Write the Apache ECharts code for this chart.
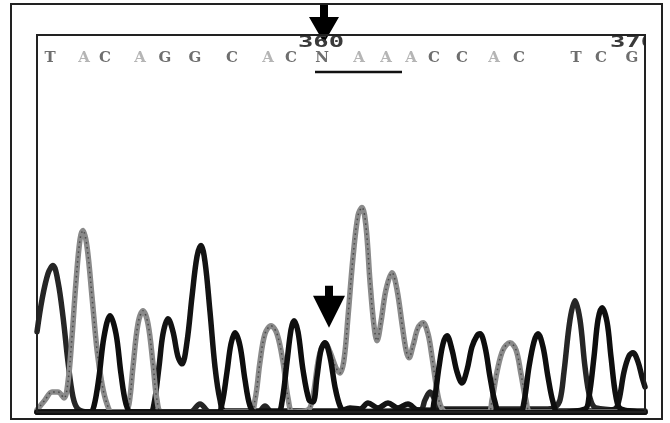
<!DOCTYPE html>
<html>
<head>
<meta charset="utf-8">
<script src="https://cdn.jsdelivr.net/npm/echarts@6/dist/echarts.min.js"></script>
<style>html,body{margin:0;padding:0;background:#fff;}#c{width:670px;height:423px;}</style>
</head>
<body>
<div id="c"></div>
<script>
// Base calls and their positions along the scan axis
const bases   = ['T','A','C','A','G','G','C','A','C','N','A','A','A','C','C','A','C','T','C','G'];
const basePos = [50, 84, 105, 140, 165, 195, 232, 268, 291, 322, 359, 386, 411, 434, 462, 494, 519, 576, 601, 632];
const baseRowY = 353;

// Position tick labels
const tickLabels = ['360', '370'];
const tickPos = [321, 633];
const tickRowY = 368;

// Trace intensities [scan position, signal]
const traceA = [[37,2],[45,12],[52,20],[58,20],[64,14],[68,30],[72,75],[76,130],[80,172],[83,181],[87,165],[92,115],[97,62],[102,28],[107,8],[112,0],[125,0],[129,8],[133,45],[138,88],[143,101],[148,88],[153,48],[157,12],[162,0],[250,0],[255,12],[260,50],[265,78],[271,86],[277,78],[283,50],[288,14],[293,0],[308,2],[313,16],[319,55],[325,69],[330,60],[336,44],[340,39],[344,52],[348,95],[353,154],[358,196],[362,204],[366,185],[370,130],[374,86],[377,71],[381,90],[386,122],[392,139],[397,122],[402,88],[406,62],[409,54],[413,66],[418,84],[423,89],[428,78],[432,55],[436,28],[440,8],[446,0],[488,0],[492,12],[497,40],[503,62],[510,69],[516,62],[521,38],[526,12],[531,0],[645,0]];
const traceC = [[37,0],[90,0],[94,6],[99,35],[104,75],[110,96],[116,78],[121,38],[126,8],[131,0],[218,0],[222,8],[227,40],[231,68],[235,79],[240,66],[245,32],[250,6],[255,0],[278,0],[282,10],[287,50],[291,82],[294,91],[298,80],[303,42],[309,12],[313,10],[317,35],[321,62],[325,69],[330,55],[335,25],[340,6],[345,0],[430,0],[434,10],[439,45],[443,68],[447,76],[452,62],[457,40],[462,29],[467,42],[472,65],[477,76],[480,78],[485,65],[490,35],[495,10],[500,0],[520,0],[524,10],[529,45],[534,70],[538,78],[543,65],[548,35],[553,10],[558,0],[585,3],[589,15],[594,55],[598,92],[602,104],[607,90],[611,55],[616,15],[621,3],[645,0]];
const traceG = [[37,0],[150,0],[154,8],[159,45],[163,78],[168,93],[173,80],[178,55],[182,48],[187,70],[192,115],[197,155],[201,166],[205,150],[210,100],[215,45],[220,12],[225,1],[340,1],[350,4],[360,3],[368,9],[378,4],[388,9],[398,4],[408,8],[418,2],[600,1],[615,3],[619,12],[624,40],[629,56],[633,59],[638,50],[642,35],[645,25]];
const traceT = [[37,80],[42,112],[48,138],[53,146],[58,130],[63,95],[68,50],[73,15],[78,3],[90,0],[190,0],[200,8],[210,0],[258,0],[265,6],[272,0],[420,2],[425,12],[430,20],[435,12],[440,3],[545,3],[555,5],[560,12],[564,40],[570,92],[575,111],[580,92],[585,45],[590,14],[596,4],[645,1]];

// Annotations
const underlineX = [315, 402];
const underlineY = 339;
const arrowX = [324, 329];
const arrowTipY = [368, 84];

const chart = echarts.init(document.getElementById('c'), null, {renderer: 'canvas'});

const arrowTop = 'path://M11,0 L19,0 L19,12 L30,12 L15,38 L0,12 L11,12 Z';
const arrowLow = 'path://M12,0 L20,0 L20,10 L32,10 L16,42 L0,10 L12,10 Z';

function trace(name, data, color, width, z) {
  return {
    name, type: 'line', data, smooth: 0.35, symbol: 'none', z: z || 2,
    lineStyle: {color, width, cap: 'round', join: 'round'}
  };
}

chart.setOption({
  animation: false,
  backgroundColor: '#fff',
  grid: {left: 37, right: 25, top: 35, bottom: 11, show: true, borderColor: '#222', borderWidth: 2, backgroundColor: 'transparent'},
  xAxis: {type: 'value', min: 37, max: 645, z: 10, axisLine: {show: true, onZero: false, lineStyle: {color: '#111', width: 5}}, axisTick: {show: false}, axisLabel: {show: false}, splitLine: {show: false}},
  yAxis: {type: 'value', min: 0, max: 376, axisLine: {show: false}, axisTick: {show: false}, axisLabel: {show: false}, splitLine: {show: false}},
  series: [
    trace('T', traceT, '#262626', 5.5, 2),
    trace('G', traceG, '#131313', 5.5, 3),
    trace('A', traceA, '#8a8a8a', 5.5, 4),
    {name: 'A-dots', type: 'line', data: traceA, smooth: 0.35, symbol: 'none', z: 5,
     lineStyle: {color: '#4a4a4a', width: 1.5, type: [1.5, 3.5]}},
    trace('C', traceC, '#0e0e0e', 5.5, 6),
    {
      name: 'bases', type: 'scatter', symbolSize: 0, z: 7, clip: false,
      data: bases.map((b, i) => ({name: b, value: [basePos[i], baseRowY],
        label: {color: b === 'A' ? '#a2a2a2' : '#4a4a4a'}})),
      label: {show: true, position: 'inside', formatter: '{b}', fontFamily: 'DejaVu Serif', fontWeight: 'bold', fontSize: 15}
    },
    {
      name: 'underline', type: 'line', symbol: 'none', z: 7,
      data: [[underlineX[0], underlineY], [underlineX[1], underlineY]],
      lineStyle: {color: '#111', width: 2.5}
    },
    {
      name: 'arrows', type: 'scatter', z: 20, clip: false,
      data: [
        {value: [arrowX[0], arrowTipY[0]], symbol: arrowTop, symbolSize: [30, 38], symbolOffset: [0, -19]},
        {value: [arrowX[1], arrowTipY[1]], symbol: arrowLow, symbolSize: [32, 42], symbolOffset: [0, -21]}
      ],
      symbolKeepAspect: false,
      itemStyle: {color: '#000', opacity: 1}
    }
  ]
});

// Tick labels are placed through the chart's own scales, then widened like the original print
const tickGraphics = tickLabels.map((t, i) => {
  const p = chart.convertToPixel({gridIndex: 0}, [tickPos[i], tickRowY]);
  return {type: 'text', z: 40, x: p[0], y: p[1], scaleX: 1.7, originX: 0, originY: 0,
    style: {text: t, font: 'bold 15px "DejaVu Sans Mono"', fill: '#3a3a3a', align: 'center', verticalAlign: 'middle'}};
});

chart.setOption({
  graphic: tickGraphics.concat([
    {type: 'rect', z: 50, shape: {x: 646, y: 30, width: 14, height: 30}, style: {fill: '#fff'}},
    {type: 'rect', z: 60, shape: {x: 37, y: 35, width: 608, height: 377}, style: {fill: null, stroke: '#222', lineWidth: 2}},
    {type: 'rect', z: 60, shape: {x: 11, y: 4, width: 651, height: 415}, style: {fill: null, stroke: '#222', lineWidth: 2}}
  ])
});
</script>
</body>
</html>
